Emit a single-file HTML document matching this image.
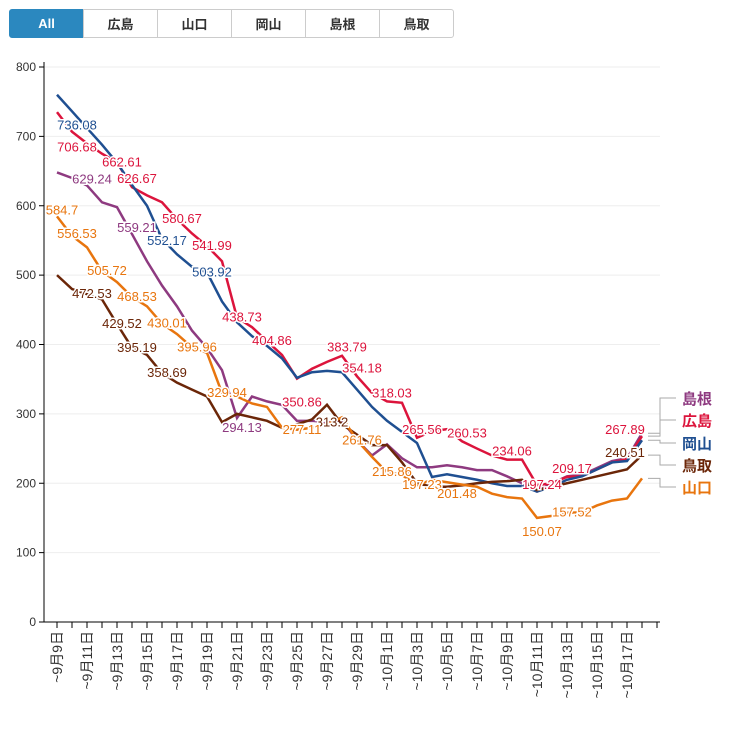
<!DOCTYPE html>
<html><head><meta charset="utf-8">
<style>
body{margin:0;background:#fff;font-family:"Liberation Sans","Noto Sans CJK JP",sans-serif;}
#btns{position:absolute;left:10px;top:9px;display:flex;}
.b{width:73px;height:27px;border:1px solid #ccc;margin-left:-1px;display:flex;align-items:center;justify-content:center;font-size:13px;font-weight:bold;color:#333;background:#fff;}
.b.sel{background:#2b88bf;color:#fff;border-color:#2b88bf;border-radius:3px 0 0 3px}
.b:last-child{border-radius:0 3px 3px 0}
</style></head><body>
<div id="btns">
<div class="b sel">All</div>
<div class="b">広島</div>
<div class="b">山口</div>
<div class="b">岡山</div>
<div class="b">島根</div>
<div class="b">鳥取</div>
</div>
<svg id="c" width="730" height="729" style="position:absolute;left:0;top:0;z-index:-1"></svg>
<script>
const days=["9月9日","9月10日","9月11日","9月12日","9月13日","9月14日","9月15日","9月16日","9月17日","9月18日","9月19日","9月20日","9月21日","9月22日","9月23日","9月24日","9月25日","9月26日","9月27日","9月28日","9月29日","9月30日","10月1日","10月2日","10月3日","10月4日","10月5日","10月6日","10月7日","10月8日","10月9日","10月10日","10月11日","10月12日","10月13日","10月14日","10月15日","10月16日","10月17日","10月18日","10月19日"];
const yTicks=[0,100,200,300,400,500,600,700,800];
const seriesNames=["島根","広島","岡山","鳥取","山口"];
const seriesColors=["#8e3a80","#dc143c","#1f4f91","#6b2608","#e8750e"];
const hiroshima=[735,706.68,690,675,662.61,626.67,615,605,580.67,560,541.99,520,438.73,425,404.86,385,350.86,365,375,383.79,354.18,330,318.03,316,265.56,275,278,260.53,250,240,234.06,234,197.24,200,209.17,210,220,230,235,267.89];
const okayama=[760,736.08,712,688,662,630,600,552.17,530,512,503.92,462,432,412,398,380,352,360,362,360,335,310,290,274,258,209,213,209,205,200,196,196,188,195,205,210,220,230,232,262];
const shimane=[648,640,629.24,605,598,559.21,520,485,455,420,395,363,294.13,325,318,313,290,290,288,291,262,240,256,236,223,223,226,223,219,219,210,200,188,200,210,212,222,232,236,272];
const tottori=[500,480,472.53,465,429.52,395.19,385,358.69,345,335,325,288,300,295,290,280,285,292,313.2,285,270,255,255,230,200,195,195,197,200,202,203,205,190,195,200,205,210,215,220,240.51];
const yamaguchi=[584.7,556.53,540,505.72,490,468.53,455,430.01,415,395.96,388,329.94,325,315,310,280,277.11,280,285,295,261.76,238,215.86,212,197.23,205,201.48,198,195,185,180,178,150.07,153,157.52,158,168,175,178,207];
const series=[shimane,hiroshima,okayama,tottori,yamaguchi];
// labels: [seriesIndex, pointIndex, dx, dy]
const labels=[[2,1,5,18],[1,1,5,20],[1,4,5,4],[1,5,5,-4],[1,8,5,4],[1,10,5,4],[1,12,5,4],[1,14,5,4],[1,16,5,28],[1,19,5,-4],[1,20,5,-4],[1,22,5,-4],[1,24,5,-4],[1,27,5,-4],[1,30,5,-4],[1,32,5,4],[1,34,5,-4],[1,39,-17,-2],
[2,7,5,6],[2,10,5,4],[0,2,5,-2],[0,5,5,-2],[0,12,5,14],[3,18,5,22],[4,0,5,-2],[4,1,5,2],[4,3,5,4],[4,5,5,4],[4,7,5,4],[4,9,5,4],[4,11,5,4],[4,16,5,4],[4,20,5,4],[4,22,5,4],[4,24,5,4],[4,26,10,16],[4,32,5,18],[4,34,5,4],
[3,2,5,4],[3,4,5,4],[3,5,5,4],[3,7,5,4],[3,39,-17,2]];
const svg=document.getElementById('c');const NS="http://www.w3.org/2000/svg";
const X=i=>57+i*15, Y=v=>622-v*0.69375;
function mk(t,a,p){const e=document.createElementNS(NS,t);for(const k in a)e.setAttribute(k,a[k]);(p||svg).appendChild(e);return e;}
yTicks.forEach(v=>{
 if(v>0){const g=mk('line',{x1:44,x2:660,y1:Y(v),y2:Y(v),stroke:'#eee'});
 
 }
 mk('line',{x1:39,x2:44,y1:Y(v),y2:Y(v),stroke:'#000'});
 const t=mk('text',{x:36,y:Y(v)+4,'text-anchor':'end','font-size':12,fill:'#333'});t.textContent=v;
 
 
});
mk('line',{x1:44,x2:44,y1:62,y2:622,stroke:'#000'});
mk('line',{x1:44,x2:660,y1:622,y2:622,stroke:'#000'});
days.forEach((d,i)=>{
 mk('line',{x1:X(i),x2:X(i),y1:622,y2:628,stroke:'#000'});
 if(i%2==0&&i<40){const t=mk('text',{transform:`translate(${X(i)+5},631) rotate(-90)`,'text-anchor':'end','font-size':14,fill:'#333'});t.textContent='~'+d;
 
 }
});
series.forEach((s,k)=>{
 const p=mk('path',{d:s.map((v,i)=>(i?'L':'M')+X(i)+','+Y(v)).join(''),fill:'none',stroke:seriesColors[k],'stroke-width':2.5});
 
 
});
labels.forEach(([k,i,dx,dy])=>{
 const v=series[k][i];
 const t=mk('text',{x:X(i)+dx,y:Y(v)+dy,'text-anchor':'middle','font-size':13,fill:seriesColors[k],stroke:'#fff','stroke-width':3,'paint-order':'stroke'});
 t.textContent=v;
 
 
});
const legY=[403,425,448,470,492];
series.forEach((s,k)=>{
 const ey=Y(s[s.length-1]);
 mk('polyline',{points:`648,${ey} 660,${ey} 660,${legY[k]-5} 676,${legY[k]-5}`,fill:'none',stroke:'#aaa','stroke-width':1});
 const t=mk('text',{x:682,y:legY[k]+1,'font-size':15,'font-weight':'bold',fill:seriesColors[k]});t.textContent=seriesNames[k];
 
 
});
</script>
</body></html>
